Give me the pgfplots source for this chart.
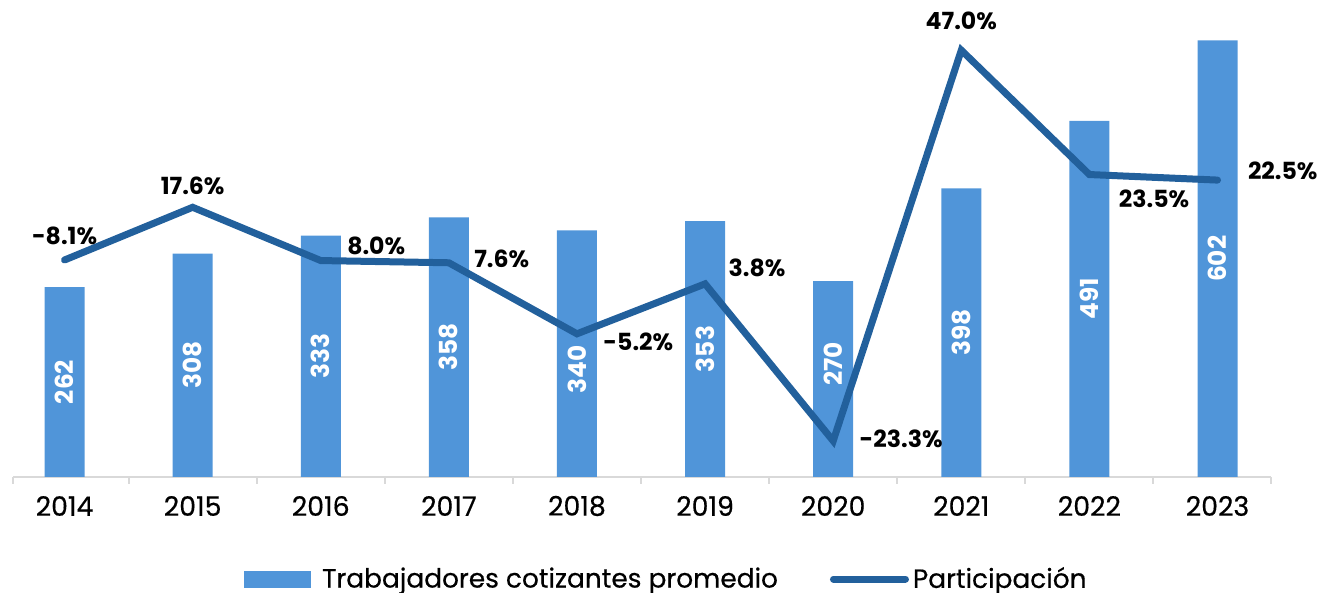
\documentclass[border=0pt]{standalone}
\usepackage{fontspec}
\setmainfont{Poppins}
\newfontfamily\medfont{Poppins}[FakeBold=0.5]
\usepackage{pgfplots}
\usepackage{pgfplotstable}
\pgfplotsset{compat=1.18}

\definecolor{barcol}{RGB}{80,149,217}
\definecolor{linecol}{RGB}{34,96,156}
\definecolor{axisgray}{RGB}{217,217,217}

% Trabajadores cotizantes promedio (off = label shift in pt)
\pgfplotstableread{
x val off
0 262 0
1 308 0
2 333 0
3 358 0
4 340 -8
5 353 0
6 270 7.5
7 398 0
8 491 0
9 602 0
}\bartable

% Participacion: plotted value, label, label anchor angle (270 = south, 180 = west), shift
\pgfplotstableread{
x p lab ang dx dy
0 8.1 -8.1 270 0 6
1 17.6 17.6 270 0 4.5
2 8.0 8.0 180 11.5 7.5
3 7.6 7.6 180 11 2
4 -5.2 -5.2 180 11.5 -4
5 3.8 3.8 180 10 8
6 -24.5 -23.3 180 11.5 1
7 45.9 47.0 270 0 8.5
8 23.5 23.5 180 13 -12
9 22.5 22.5 180 13.5 4.5
}\linetable

\pgfplotsset{
  /pgf/number format/assume math mode=true,
  base/.style={
    scale only axis, width=629pt, height=228.5pt,
    at={(6.65pt,58pt)}, anchor=south west,
    xmin=-0.4, xmax=9.42, clip=false,
  },
}

\begin{document}
\begin{tikzpicture}
\useasboundingbox (0,0) rectangle (659pt,296.5pt);

\begin{axis}[
  base,
  ymin=0, ymax=630.3,
  axis y line=none, axis x line*=bottom,
  x axis line style={draw=axisgray, line width=1pt, -},
  xtick={0,...,9},
  xticklabels={2014,2015,2016,2017,2018,2019,2020,2021,2022,2023},
  major tick length=0pt,
  xticklabel style={anchor=center, yshift=-14.5pt, font=\medfont\fontsize{13.4}{15}\selectfont},
  extra x ticks={-0.4,0.5,1.5,2.5,3.5,4.5,5.5,6.5,7.5,8.5,9.42},
  extra x tick labels={},
  extra x tick style={major tick length=3.5pt, tick align=outside,
    tick style={draw=axisgray, line width=1pt}},
  ybar, bar width=20pt,
]
\addplot[fill=barcol, draw=none,
  point meta=y,
  nodes near coords,
  visualization depends on=y \as \rawy,
  visualization depends on={\thisrow{off}\as\boff},
  every node near coord/.append style={
    shift={(axis direction cs:0,-\rawy/2)}, yshift=\boff pt, rotate=90, anchor=center,
    text=white, font=\bfseries\fontsize{12.4}{14}\selectfont},
] table[x=x, y=val] {\bartable};
\end{axis}

\begin{axis}[
  base,
  ymin=-31.0, ymax=51.35,
  hide axis,
  legend columns=2,
  legend style={at={(0.52,-0.2232)}, anchor=center, draw=none, fill=none,
    font=\medfont\fontsize{13.2}{15}\selectfont,
    /tikz/every even column/.append style={column sep=24pt}},
]
\addlegendimage{legend image code/.code={\fill[barcol] (0pt,-4pt) rectangle (33pt,4pt); \path (36.5pt,0pt);}}
\addlegendentry{Trabajadores cotizantes promedio}
\addplot[linecol, line width=3.5pt, line cap=round, line join=miter,
  point meta=explicit symbolic,
  nodes near coords={\pgfplotspointmeta\%},
  visualization depends on={\thisrow{ang}\as\labang},
  visualization depends on={\thisrow{dx}\as\labdx},
  visualization depends on={\thisrow{dy}\as\labdy},
  every node near coord/.append style={anchor=\labang, inner sep=0pt,
    xshift=\labdx pt, yshift=\labdy pt, text=black,
    font=\bfseries\fontsize{11.8}{13}\selectfont},
  legend image code/.code={\draw[linecol, line width=3.5pt, line cap=round] (0pt,0pt) -- (36pt,0pt);},
] table[x=x, y=p, meta=lab] {\linetable};
\addlegendentry{Participación}
\end{axis}
\end{tikzpicture}
\end{document}
